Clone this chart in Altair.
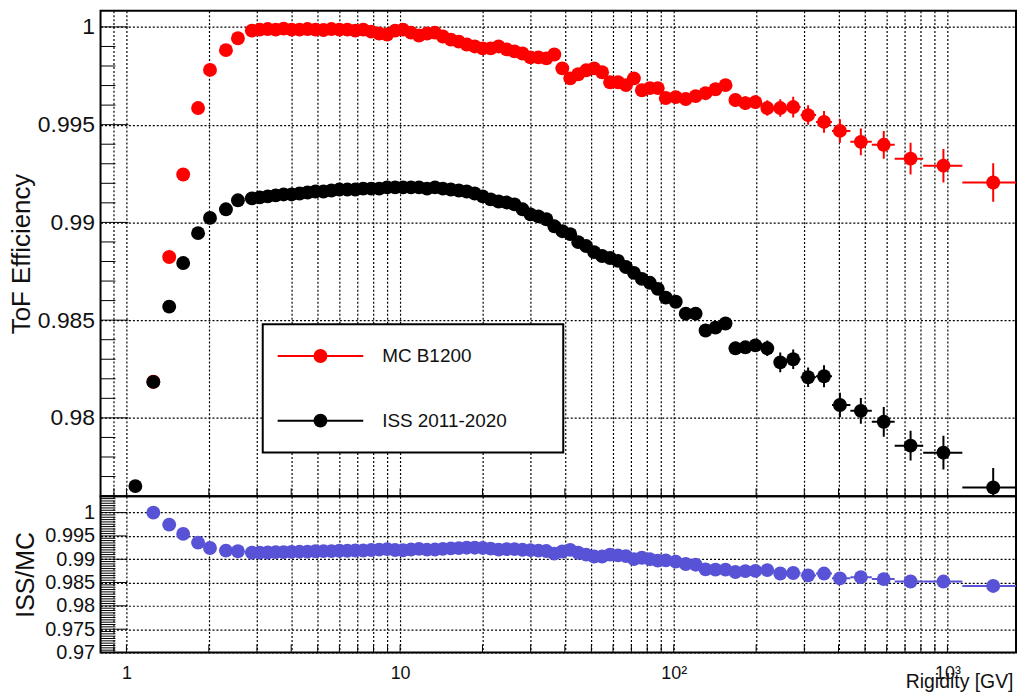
import altair as alt
import pandas as pd

# ---------------- data ----------------
rigidity = [1.078, 1.254, 1.433, 1.612, 1.827, 2.020, 2.310, 2.555, 2.872, 3.071,
            3.283, 3.511, 3.754, 4.014, 4.292, 4.589, 4.907, 5.248, 5.611, 6.000,
            6.415, 6.860, 7.335, 7.843, 8.386, 8.967, 9.590, 10.25, 10.96, 11.72,
            12.54, 13.41, 14.33, 15.33, 16.39, 17.52, 18.74, 20.04, 21.42, 22.91,
            24.50, 26.19, 28.01, 29.95, 32.02, 34.24, 36.61, 39.15, 41.86, 44.76,
            47.86, 51.17, 54.72, 58.51, 62.56, 66.89, 71.52, 76.48, 81.78, 87.44,
            93.52, 101.7, 110.6, 120.2, 130.7, 142.1, 154.6, 168.0, 182.7, 198.7,
            219.7, 245.0, 273.2, 309.7, 354.1, 404.8, 482.7, 585.3, 733.5, 967.0,
            1470.0]

mc_eff = [None, 0.98185, 0.98823, 0.99245, 0.99585, 0.99780, 0.99881, 0.99942, 0.99981, 0.99986,
          0.99989, 0.99986, 0.99991, 0.99986, 0.99986, 0.99989, 0.99986, 0.99984, 0.99989, 0.99986,
          0.99986, 0.99981, 0.99986, 0.99976, 0.99966, 0.99961, 0.99981, 0.99986, 0.99971, 0.99956,
          0.99966, 0.99971, 0.99951, 0.99935, 0.99925, 0.99910, 0.99900, 0.99890, 0.99890, 0.99900,
          0.99885, 0.99875, 0.99864, 0.99844, 0.99844, 0.99839, 0.99859, 0.99788, 0.99737, 0.99758,
          0.99778, 0.99788, 0.99768, 0.99717, 0.99717, 0.99702, 0.99737, 0.99676, 0.99687, 0.99687,
          0.99636, 0.99641, 0.99631, 0.99646, 0.99661, 0.99681, 0.99702, 0.99626, 0.99610, 0.99615,
          0.99585, 0.99585, 0.99590, 0.99549, 0.99514, 0.99468, 0.99412, 0.99397, 0.99326, 0.99290,
          0.99204]

iss_eff = [0.97651, 0.98184, 0.98569, 0.98792, 0.98945, 0.99023, 0.99067, 0.99113, 0.99123, 0.99128,
           0.99133, 0.99138, 0.99143, 0.99143, 0.99148, 0.99153, 0.99158, 0.99158, 0.99163, 0.99168,
           0.99168, 0.99168, 0.99173, 0.99173, 0.99173, 0.99179, 0.99179, 0.99179, 0.99179, 0.99179,
           0.99173, 0.99179, 0.99173, 0.99168, 0.99163, 0.99158, 0.99148, 0.99133, 0.99118, 0.99107,
           0.99102, 0.99092, 0.99067, 0.99041, 0.99031, 0.99016, 0.98980, 0.98955, 0.98940, 0.98899,
           0.98879, 0.98848, 0.98828, 0.98818, 0.98803, 0.98772, 0.98742, 0.98711, 0.98691, 0.98660,
           0.98615, 0.98594, 0.98533, 0.98533, 0.98447, 0.98462, 0.98483, 0.98356, 0.98361, 0.98371,
           0.98356, 0.98284, 0.98300, 0.98208, 0.98213, 0.98066, 0.98036, 0.97980, 0.97858, 0.97822,
           0.97644]

mc_err = [None, 0.00015, 0.00015, 0.00015, 0.00015, 0.00015, 0.00015, 0.00015, 0.0001, 0.0001,
          0.0001, 0.0001, 0.0001, 0.0001, 0.0001, 0.0001, 0.0001, 0.0001, 0.0001, 0.0001,
          0.0001, 0.0001, 0.0001, 0.0001, 0.0001, 0.0001, 0.0001, 0.0001, 0.0001, 0.0001,
          0.0001, 0.0001, 0.0001, 0.0001, 0.0001, 0.0001, 0.0001, 0.0001, 0.0001, 0.0001,
          0.0001, 0.00015, 0.00015, 0.00015, 0.00015, 0.00015, 0.00015, 0.00015, 0.00015, 0.00015,
          0.00015, 0.00015, 0.00015, 0.00015, 0.00015, 0.00015, 0.0002, 0.0002, 0.0002, 0.0002,
          0.0002, 0.0002, 0.0002, 0.00025, 0.00025, 0.00025, 0.00025, 0.00035, 0.00035, 0.00035,
          0.0004, 0.00045, 0.00053, 0.0005, 0.00056, 0.0006, 0.00068, 0.00071, 0.00081, 0.00086,
          0.00099]

iss_err = [0.0002, 0.00015, 0.00015, 0.00015, 0.00015, 0.00015, 0.00015, 0.00015, 0.0001, 0.0001,
           0.0001, 0.0001, 0.0001, 0.0001, 0.0001, 0.0001, 0.0001, 0.0001, 0.0001, 0.0001,
           0.0001, 0.0001, 0.0001, 0.0001, 0.0001, 0.0001, 0.0001, 0.0001, 0.0001, 0.0001,
           0.0001, 0.0001, 0.0001, 0.0001, 0.0001, 0.0001, 0.0001, 0.0001, 0.0001, 0.0001,
           0.0001, 0.00015, 0.00015, 0.00015, 0.00015, 0.00015, 0.00015, 0.00015, 0.00015, 0.00015,
           0.00015, 0.00015, 0.00015, 0.00015, 0.00015, 0.00015, 0.0002, 0.0002, 0.0002, 0.0002,
           0.0002, 0.0002, 0.0002, 0.00025, 0.00025, 0.00025, 0.00025, 0.0003, 0.0003, 0.0003,
           0.0004, 0.0005, 0.0005, 0.0005, 0.00056, 0.00063, 0.00066, 0.00076, 0.00076, 0.00086,
           0.001]

# bin edges of the last (wide) bins, whose horizontal bars are visible
tail_lo = [258.6, 290.8, 331.1, 378.6, 442.0, 529.3, 641.7, 815.6, 1133.8]
tail_hi = [290.8, 331.1, 378.6, 442.0, 529.3, 641.7, 815.6, 1133.8, 2106.0]

# axis ticks / labels
x_grid = [0.9, 1, 2, 3, 4, 5, 6, 7, 8, 9, 10, 20, 30, 40, 50, 60, 70, 80, 90,
          100, 200, 300, 400, 500, 600, 700, 800, 900, 1000]
x_decades = [1, 10, 100, 1000]
top_major = [0.98, 0.985, 0.99, 0.995, 1.0]
top_minor = [0.976, 0.977, 0.978, 0.979, 0.981, 0.982, 0.983, 0.984, 0.986, 0.987,
             0.988, 0.989, 0.991, 0.992, 0.993, 0.994, 0.996, 0.997, 0.998, 0.999]
bot_major = [0.97, 0.975, 0.98, 0.985, 0.99, 0.995, 1.0]
bot_minor = [round(0.97 + 0.0005 * i, 4) for i in range(1, 68) if i % 10 != 0]

legend_labels = ["MC B1200", "ISS 2011-2020"]

# ---------------- chart ----------------
W, HT, HB = 920, 488, 157
FONT = "Liberation Sans"
RED, BLACK, BLUE = "#ff0000", "#000000", "#5852d6"
MSIZE = 195

df = pd.DataFrame({"R": rigidity, "mc": mc_eff, "iss": iss_eff,
                   "mc_err": mc_err, "iss_err": iss_err}).astype(float)
df["mc_lo"] = df["mc"] - df["mc_err"]
df["mc_hi"] = df["mc"] + df["mc_err"]
df["iss_lo"] = df["iss"] - df["iss_err"]
df["iss_hi"] = df["iss"] + df["iss_err"]
df["ratio"] = df["iss"] / df["mc"]
tail = df.iloc[-len(tail_lo):].copy()
tail["lo"] = tail_lo
tail["hi"] = tail_hi

xs = alt.Scale(type="log", domain=[0.8042, 1781.0], nice=False)
yts = alt.Scale(domain=[0.97599, 1.00083], nice=False, zero=False)
ybs = alt.Scale(domain=[0.9700, 1.0035], nice=False, zero=False)

gridkw = dict(grid=True, gridColor="black", gridDash=[2, 2], gridWidth=1.2,
              gridOpacity=1, ticks=False, domain=False)
ylab = "format(datum.value, '.3~f')"
xlab = ("datum.value == 1 ? '1' : datum.value == 10 ? '10' : "
        "datum.value == 100 ? '10²' : datum.value == 1000 ? '10³' : ''")

ax_xt = alt.Axis(values=x_grid, labels=False, title=None, **gridkw)
ax_yt = alt.Axis(values=top_major, labelExpr=ylab, labelFontSize=23, labelPadding=6,
                 labelColor="#111", title="ToF Efficiency", titleFontSize=26,
                 titleFontWeight="normal", titleColor="#111", titleX=-79, titleY=HT / 2,
                 titleAngle=270, titleAlign="center", titleBaseline="middle",
                 labelOverlap=False, **gridkw)
ax_xb = alt.Axis(values=x_grid, labelExpr=xlab, labelFontSize=18, labelPadding=12,
                 labelColor="#111", labelFlush=False, labelOverlap=False,
                 title="Rigidity [GV]", titleFontSize=19.5, titleFontWeight="normal",
                 titleColor="#111", titleAnchor="end", titleAlign="right",
                 titleX=917, titleY=29, titleBaseline="middle", **gridkw)
ax_yb = alt.Axis(values=bot_major, labelExpr=ylab, labelFontSize=20, labelPadding=6,
                 labelColor="#111", title="ISS/MC", titleFontSize=25,
                 titleFontWeight="normal", titleColor="#111", titleX=-75, titleY=HB / 2,
                 titleAngle=270, titleAlign="center", titleBaseline="middle",
                 labelOverlap=False, **gridkw)

def X(f, ax):
    return alt.X(f"{f}:Q", scale=xs, axis=ax)

def YT(f):
    return alt.Y(f"{f}:Q", scale=yts, axis=ax_yt)

def YB(f):
    return alt.Y(f"{f}:Q", scale=ybs, axis=ax_yb)

one = pd.DataFrame({"a": [0]})

def series_top(col, color):
    vbar = alt.Chart(df).mark_rule(color=color, strokeWidth=2, clip=True).encode(
        x=X("R", ax_xt), y=YT(col + "_lo"), y2=f"{col}_hi:Q")
    hbar = alt.Chart(tail).mark_rule(color=color, strokeWidth=2, clip=True).encode(
        x=X("lo", ax_xt), x2="hi:Q", y=YT(col))
    pts = alt.Chart(df).mark_point(filled=True, shape="circle", size=MSIZE, opacity=1,
                                   color=color, clip=True).encode(
        x=X("R", ax_xt), y=YT(col))
    return [vbar, hbar, pts]

ytick_maj_t = alt.Chart(pd.DataFrame({"v": top_major})).mark_rule(color="black").encode(
    y=YT("v"), x=alt.value(0), x2=alt.value(28))
ytick_min_t = alt.Chart(pd.DataFrame({"v": top_minor})).mark_rule(color="black").encode(
    y=YT("v"), x=alt.value(0), x2=alt.value(15))
xtick_t = alt.Chart(pd.DataFrame({"v": x_grid})).mark_rule(color="black").encode(
    x=X("v", ax_xt), y=alt.value(HT), y2=alt.value(HT - 8))

LX0, LX1, LY0, LY1 = 163, 465, 315, 444
leg = [alt.Chart(one).mark_rect(fill="white", stroke="black", strokeWidth=2).encode(
    x=alt.value(LX0), x2=alt.value(LX1), y=alt.value(LY0), y2=alt.value(LY1))]
for lab, color, yy in [(legend_labels[0], RED, 347), (legend_labels[1], BLACK, 412)]:
    leg.append(alt.Chart(one).mark_rule(color=color, strokeWidth=2).encode(
        x=alt.value(178), x2=alt.value(264), y=alt.value(yy)))
    leg.append(alt.Chart(one).mark_point(filled=True, shape="circle", size=MSIZE,
                                         opacity=1, color=color).encode(
        x=alt.value(221), y=alt.value(yy)))
    leg.append(alt.Chart(one).mark_text(align="left", baseline="middle", fontSize=19,
                                        font=FONT, color="#111").encode(
        x=alt.value(283), y=alt.value(yy), text=alt.value(lab)))

top = alt.layer(ytick_min_t, ytick_maj_t, xtick_t,
                *series_top("mc", RED), *series_top("iss", BLACK),
                *leg).properties(width=W, height=HT)

# bottom ratio panel
rh = alt.Chart(tail).mark_rule(color=BLUE, strokeWidth=2, clip=True).encode(
    x=X("lo", ax_xb), x2="hi:Q", y=YB("ratio"))
rp = alt.Chart(df).mark_point(filled=True, shape="circle", size=MSIZE, opacity=1,
                              color=BLUE, clip=True).encode(
    x=X("R", ax_xb), y=YB("ratio"))
ytick_maj_b = alt.Chart(pd.DataFrame({"v": bot_major})).mark_rule(color="black").encode(
    y=YB("v"), x=alt.value(0), x2=alt.value(27))
ytick_min_b = alt.Chart(pd.DataFrame({"v": bot_minor})).mark_rule(color="black").encode(
    y=YB("v"), x=alt.value(0), x2=alt.value(15))
xtick_b = alt.Chart(pd.DataFrame({"v": x_grid})).mark_rule(color="black").encode(
    x=X("v", ax_xb), y=alt.value(HB), y2=alt.value(HB - 8))

bottom = alt.layer(ytick_min_b, ytick_maj_b, xtick_b, rh, rp).properties(width=W, height=HB)

chart = alt.vconcat(top, bottom, spacing=0, bounds="flush").properties(
    padding={"left": 0, "top": 0, "right": 0, "bottom": 0}
).configure(font=FONT).configure_view(stroke="black", strokeWidth=2).configure_axis(
    labelFont=FONT, titleFont=FONT)

chart.save("out.html", embed_options={"renderer": "svg", "actions": False})
